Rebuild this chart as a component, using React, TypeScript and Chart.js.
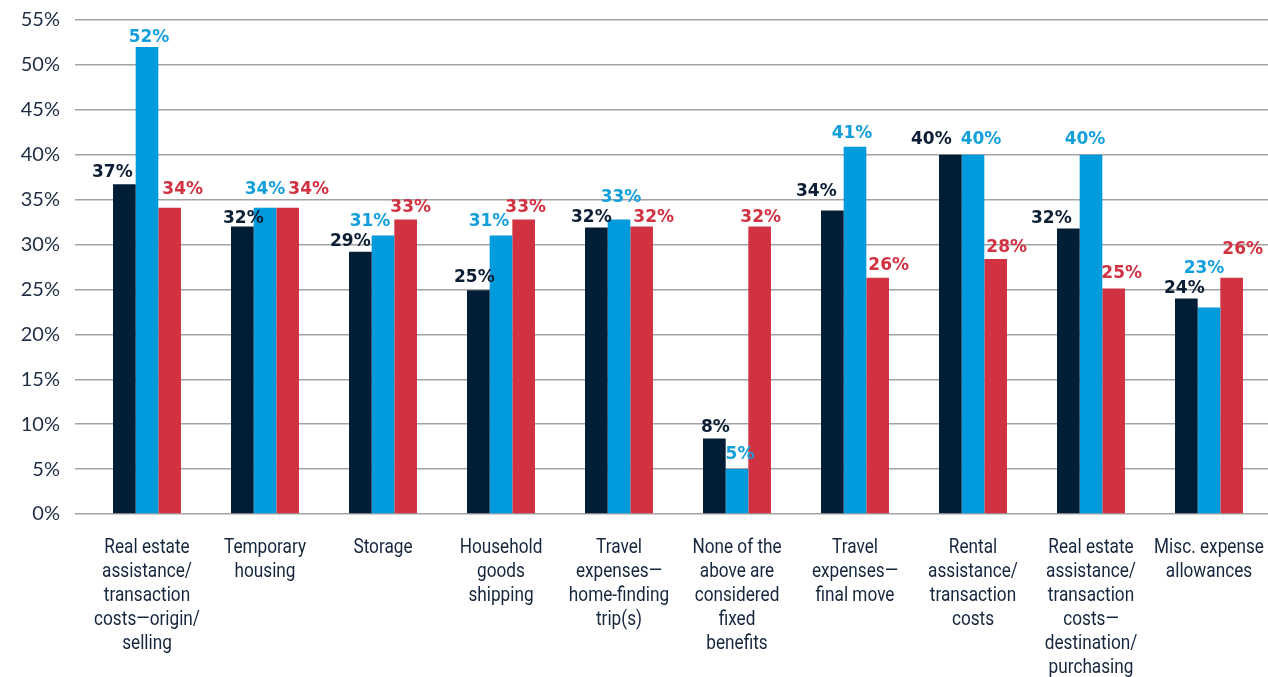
import React, { useEffect, useRef } from 'react';
import { Chart, registerables } from 'chart.js';

Chart.register(...registerables);

const categories: string[][] = [
  ['Real estate', 'assistance/', 'transaction', 'costs—origin/', 'selling'],
  ['Temporary', 'housing'],
  ['Storage'],
  ['Household', 'goods', 'shipping'],
  ['Travel', 'expenses—', 'home-finding', 'trip(s)'],
  ['None of the', 'above are', 'considered', 'fixed', 'benefits'],
  ['Travel', 'expenses—', 'final move'],
  ['Rental', 'assistance/', 'transaction', 'costs'],
  ['Real estate', 'assistance/', 'transaction', 'costs—', 'destination/', 'purchasing'],
  ['Misc. expense', 'allowances'],
];

const seriesNames = ['Series 1', 'Series 2', 'Series 3'];
const navyValues = [36.7, 32, 29.2, 24.9, 31.9, 8.4, 33.8, 40, 31.8, 24];
const blueValues = [52, 34.1, 31, 31, 32.8, 5, 40.9, 40, 40, 23];
const redValues = [34.1, 34.1, 32.8, 32.8, 32, 32, 26.3, 28.4, 25.1, 26.3];

const yTickValues = [0, 5, 10, 15, 20, 25, 30, 35, 40, 45, 50, 55];

// styling
const barColors = ['#021e37', '#009bdc', '#d13242'];
const labelColors = ['#0c1e35', '#139fdc', '#d13242'];
// per-label nudges [dx, dy] in px (label collision layout)
const labelNudges: number[][][] = [
  [[-12, -1], [1, 2], [-10, 0], [-4, -2], [-5, 1], [1, -1], [-16, -8], [-19, -5], [-17, 1], [-2, 1]],
  [[2, 1], [0, -8], [-13, -4], [-12, -4], [2, -11], [3, -4], [-3, -3], [8, -5], [-6, -5], [-5, -28]],
  [[13, -8], [21, -8], [5, -1], [2, -1], [12, 1], [1, 1], [11, -2], [11, -1], [8, -5], [11, -18]],
];

const valueLabelPlugin = {
  id: 'valueLabels',
  afterDatasetsDraw(chart: any) {
    const ctx = chart.ctx;
    ctx.save();
    ctx.font = 'bold 17px "DejaVu Sans", sans-serif';
    ctx.textAlign = 'center';
    ctx.textBaseline = 'alphabetic';
    chart.data.datasets.forEach((ds: any, di: number) => {
      const meta = chart.getDatasetMeta(di);
      meta.data.forEach((bar: any, i: number) => {
        const [dx, dy] = labelNudges[di][i];
        ctx.fillStyle = labelColors[di];
        ctx.fillText(Math.round(ds.data[i]) + '%', bar.x + dx, bar.y - 6 + dy);
      });
    });
    ctx.restore();
  },
};

// condensed category labels, drawn at the x scale's category positions
const categoryLabelPlugin = {
  id: 'categoryLabels',
  afterDraw(chart: any) {
    const ctx = chart.ctx;
    const xScale = chart.scales.x;
    ctx.save();
    ctx.font = '20px Roboto, sans-serif';
    ctx.fillStyle = '#15263d';
    ctx.textAlign = 'center';
    ctx.textBaseline = 'alphabetic';
    const lines = chart.data.labels as string[][];
    lines.forEach((label: string[], i: number) => {
      const x = xScale.getPixelForValue(i);
      label.forEach((line: string, li: number) => {
        ctx.save();
        ctx.translate(x, chart.chartArea.bottom + 39 + li * 24);
        ctx.scale(0.86, 1);
        ctx.fillText(line, 0, 0);
        ctx.restore();
      });
    });
    ctx.restore();
  },
};

export default function App() {
  const canvasRef = useRef<HTMLCanvasElement | null>(null);

  useEffect(() => {
    if (!canvasRef.current) return;
    const seriesValues = [navyValues, blueValues, redValues];
    const chart = new Chart(canvasRef.current, {
      type: 'bar',
      data: {
        labels: categories,
        datasets: seriesValues.map((vals, i) => ({
          label: seriesNames[i],
          data: vals,
          backgroundColor: barColors[i],
          borderWidth: 0,
          categoryPercentage: 0.576,
          barPercentage: 1,
        })),
      },
      options: {
        responsive: false,
        animation: false,
        layout: { padding: { top: 20, right: 0, left: 0, bottom: 0 } },
        plugins: {
          legend: { display: false },
          tooltip: { enabled: false },
        },
        scales: {
          x: {
            grid: { display: false, drawTicks: false },
            border: { display: false },
            ticks: { display: false },
            afterFit: (scale: any) => {
              scale.height = 163;
              scale.paddingLeft = 0;
              scale.paddingRight = 0;
            },
          },
          y: {
            min: 0,
            max: 55,
            afterBuildTicks: (scale: any) => {
              scale.ticks = yTickValues.map((v) => ({ value: v }));
            },
            grid: { color: '#a3a3a3', lineWidth: 1.5, tickLength: 13, drawTicks: true },
            border: { display: false },
            ticks: {
              padding: 15,
              color: '#1e2d44',
              font: { family: 'Lato, sans-serif', size: 20 },
              callback: (v: any) => v + '%',
            },
            afterFit: (scale: any) => {
              scale.width = 88;
              scale.paddingTop = 0;
              scale.paddingBottom = 0;
            },
          },
        },
      },
      plugins: [valueLabelPlugin, categoryLabelPlugin],
    });
    return () => chart.destroy();
  }, []);

  return (
    <div style={{ position: 'fixed', left: 0, top: 0, width: 1268, height: 677, background: '#fff' }}>
      <canvas ref={canvasRef} width={1268} height={677} style={{ display: 'block' }} />
    </div>
  );
}
